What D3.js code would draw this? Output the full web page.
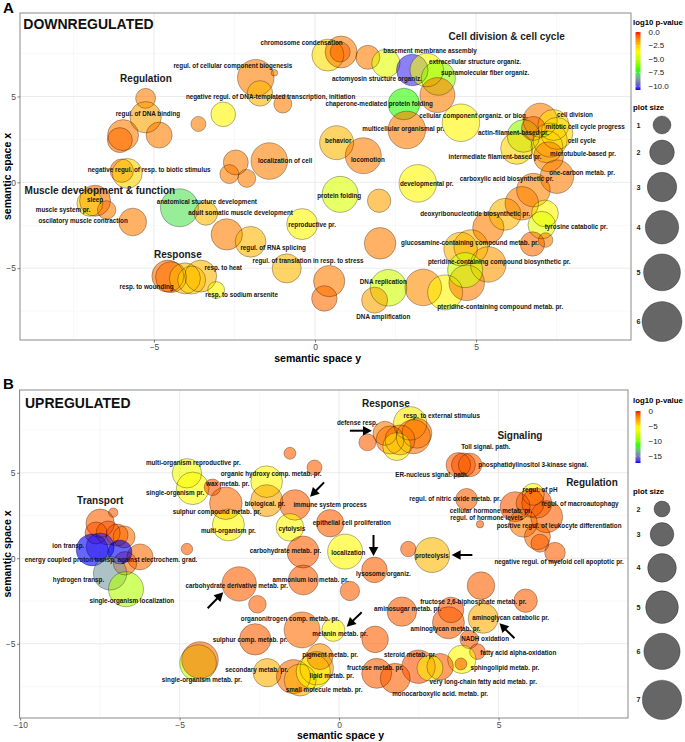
<!DOCTYPE html>
<html><head><meta charset="utf-8">
<script src="https://cdn.jsdelivr.net/npm/d3@7"></script>
<style>body{margin:0;background:#fff}svg{font-family:"Liberation Sans",Arial,Helvetica,sans-serif}</style>
</head><body><svg id="c" width="685" height="742"></svg>
<script>
// ---------------- DATA ----------------
// bubbles: [semantic space y (x axis), semantic space x (y axis), log10 p-value, plot size]
const downBubbles = [
[-5.26,4.89,-1.15,1.25],[-5.26,3.79,-1.8,3.44],[-5.96,2.75,-1.15,3.36],[-6.06,2.46,-0.9,2.05],
[-4.84,2.75,-1.15,2.25],[-3.62,3.40,-1.15,0.70],[-2.85,3.96,-3.4,2.0],[-1.84,6.09,-1.15,4.9],
[-1.71,5.18,-2.2,2.15],[-1.26,6.38,-1.3,0.34],[-1.00,4.56,-1.15,1.0],[-2.46,1.16,-1.15,2.05],
[-1.42,1.24,-1.2,4.9],[-2.66,0.48,-1.15,1.12],[-2.12,0.23,-1.15,1.0],[-6.00,0.68,-1.0,1.77],
[-5.83,0.52,-2.7,3.1],[-6.83,-1.07,-0.85,3.36],[-6.99,-1.22,-2.7,2.25],[-6.47,-1.61,-1.15,1.05],
[-5.66,-2.31,-1.15,2.6],[-4.21,-1.48,-7.6,5.34],[-3.39,-1.81,-2.2,1.8],[-2.74,-3.03,-1.15,3.44],
[-2.00,-3.46,-2.2,3.3],[-0.40,-2.43,-3.4,3.36],[-0.88,-5.01,-2.2,2.9],[-4.57,-5.46,-0.9,3.61],
[-4.47,-5.52,-1.0,3.36],[-4.04,-5.59,-2.2,3.36],[-3.83,-5.69,-2.7,2.66],[-3.55,-5.46,-2.2,3.61],
[-3.07,-6.27,-3.4,0.88],[3.19,-0.06,-3.4,5.2],[0.78,-0.70,-4.4,4.73],[1.99,-1.07,-1.8,1.77],
[2.02,-3.55,-1.15,3.51],[0.44,-5.75,-1.15,3.44],[0.29,-6.76,-0.9,2.15],[2.28,-6.14,-4.7,4.9],
[1.85,-6.86,-1.8,2.25],[3.36,-6.12,-1.4,4.9],[4.04,-6.41,-3.4,4.43],[4.71,-5.85,-1.15,4.6],
[5.38,-4.78,-1.6,4.6],[4.84,-3.75,-2.2,4.15],[4.52,-3.88,-2.2,4.0],[4.66,-5.11,-4.7,4.43],
[5.38,-2.64,-1.15,3.44],[5.90,-1.86,-2.2,3.61],[6.42,-1.22,-1.15,4.0],[6.78,-0.45,-1.3,4.0],
[7.51,0.33,-1.15,4.0],[7.14,-1.81,-3.4,2.4],[7.04,-2.49,-4.2,2.55],[7.16,-3.36,-1.15,0.66],
[6.75,-3.59,-0.9,1.95],[0.40,7.41,-2.9,3.61],[0.81,7.59,-1.15,3.61],[0.78,7.59,-0.8,1.25],
[1.64,7.28,-1.15,1.88],[2.20,6.93,-4.2,2.72],[3.02,6.54,-10.4,3.51],[3.47,6.54,-3.8,4.0],
[3.83,6.06,-5.8,4.15],[3.80,5.08,-1.15,4.43],[2.76,4.56,-7.0,3.51],[2.85,3.05,-1.15,5.2],
[4.53,3.47,-3.4,5.2],[0.67,2.31,-2.2,4.15],[1.50,1.55,-1.15,4.73],[6.99,3.62,-1.15,4.15],
[6.47,2.70,-5.8,3.76],[6.26,1.98,-2.7,3.61],[7.40,3.34,-2.9,3.36],[6.78,3.14,-0.85,1.88],
[7.30,2.46,-2.4,4.15],[7.20,2.07,-2.7,3.61],[7.51,2.85,-2.8,3.61],[7.25,1.49,-1.3,3.1]
];
const downLabels = [
["chromosome condensation",-0.42,8.15],["regul. of cellular component biogenesis",-2.55,6.77],
["negative regul. of DNA-templated transcription, initiation",-1.38,4.99],["regul. of DNA binding",-5.19,3.98],
["negative regul. of resp. to biotic stimulus",-5.15,0.72],["localization of cell",-0.93,1.24],
["sleep",-6.83,-0.99],["muscle system pr.",-7.82,-1.61],["oscilatory muscle contraction",-7.20,-2.25],
["anatomical stucture development",-3.36,-1.16],["adult somatic muscle development",-2.31,-1.77],
["reproductive pr.",-0.09,-2.49],["regul. of RNA splicing",-1.30,-3.79],
["regul. of translation in resp. to stress",-0.22,-4.54],["resp. to heat",-2.85,-4.97],
["resp. to wounding",-5.23,-6.08],["resp. to sodium arsenite",-2.28,-6.52],
["basement membrane assembly",3.57,7.65],["extracellular structure organiz.",4.97,7.02],
["actomyosin structure organiz.",1.92,6.00],["supramolecular fiber organiz.",5.28,6.35],
["chaperone-mediated protein folding",1.99,4.60],["cellular component organiz. or biog.",4.92,3.86],
["multicellular organismal pr.",2.74,3.09],["behavior",0.72,2.42],["locomotion",1.64,1.30],
["cell division",8.07,3.96],["mitotic cell cycle progress",8.39,3.24],["actin-filament-based pr.",6.16,2.91],
["cell cycle",8.28,2.41],["intermediate filament-based pr.",5.59,1.49],["microtubule-based pr.",8.32,1.69],
["one-carbon metab. pr.",8.29,0.58],["carboxylic acid biosynthetic pr.",5.95,0.19],
["developmental pr.",3.47,-0.06],["protein folding",0.75,-0.76],
["deoxyribonucleotide biosynthetic pr.",4.97,-1.86],["tyrosine catabolic pr.",8.11,-2.60],
["glucosamine-containing compound metab. pr.",4.81,-3.52],
["pteridine-containing compound biosynthetic pr.",5.72,-4.62],["DNA replication",2.12,-5.82],
["DNA amplification",2.12,-7.83],["pteridine-containing compound metab. pr.",5.75,-7.25]
];
const downGroups = [["Regulation",-5.25,6.03],["Cell division & cell cycle",5.95,8.52],
["Muscle development & function",-6.68,-0.49],["Response",-4.26,-4.19]];

const upBubbles = [
[-4.77,4.97,-6.3,4.16],[-4.59,4.09,-5.7,4.95],[-3.97,4.15,-0.87,2.06],[-3.55,3.22,-1.45,4.95],
[-3.47,1.95,-5.6,4.8],[-2.27,4.48,-5.6,4.7],[-2.27,3.37,-3.0,4.8],[-1.38,3.12,-1.15,4.44],
[-1.54,1.81,-5.7,3.76],[-1.54,6.14,-1.15,1.72],[-0.77,5.31,-1.15,1.91],[-0.28,2.05,-1.15,3.72],
[-1.13,0.37,-1.15,4.8],[0.19,0.39,-5.6,5.62],[-4.77,0.54,-1.15,1.70],[-7.08,2.67,-1.15,1.63],
[-7.49,2.05,-1.15,3.93],[-7.62,1.48,-0.87,2.73],[-7.24,1.48,-1.0,3.06],[-6.96,1.36,-1.0,2.73],
[-6.74,1.25,-1.6,2.73],[-6.71,-0.29,-1.3,2.96],[-6.24,0.08,-1.45,3.43],[-7.74,0.49,-17.3,4.8],
[-7.49,0.66,-17.0,3.84],[-6.87,0.37,-17.3,3.06],[-7.18,-0.88,-14.2,5.17],[-6.68,-1.81,-8.6,5.62],
[-3.13,-1.50,-1.15,5.45],[-2.56,-2.69,-1.15,2.16],[-1.16,-4.19,-1.45,5.9],[-1.12,-1.27,-1.15,4.3],
[-2.63,-4.74,-1.15,4.64],[-4.42,-6.13,-8.0,6.1],[-4.36,-5.95,-1.45,6.1],[-2.25,-6.69,-3.3,3.93],
[-1.43,-6.92,-1.45,5.33],[-1.22,-7.12,-3.3,4.8],[-0.70,-6.43,-2.8,5.17],[-0.81,-6.63,-5.6,5.33],
[-0.60,-5.75,-2.4,3.43],[-0.18,-4.19,-5.6,2.89],[1.13,-4.74,-1.15,3.55],[0.34,-1.91,-1.15,2.37],
[1.11,-0.68,-1.15,3.35],[2.92,0.19,-3.5,5.62],[2.17,0.54,-1.15,1.95],[1.97,-3.12,-1.15,4.16],
[3.51,-3.02,-1.0,3.35],[3.43,-3.77,-1.15,4.8],[4.45,-1.60,-1.15,3.76],[5.85,-2.48,-1.15,2.96],
[4.52,-3.51,-3.2,4.3],[4.08,-4.74,-1.1,2.25],[4.34,-5.46,-1.15,1.97],[3.85,-5.91,-5.6,3.93],
[3.82,-6.18,-1.1,1.72],[2.49,-6.34,-0.87,5.17],[3.17,-6.34,-1.15,3.55],[2.85,-6.42,-5.3,3.43],
[1.18,-6.73,-1.1,4.3],[1.76,-7.02,-1.15,4.3],[0.89,6.78,-1.15,2.1],[2.23,7.89,-5.0,5.17],
[1.44,7.31,-1.8,3.06],[1.60,6.92,-1.7,3.84],[1.91,6.92,-1.7,4.3],[2.33,7.11,-1.6,5.33],
[2.44,7.31,-1.7,4.3],[1.81,6.53,-5.0,3.84],[3.74,5.46,-1.15,3.17],[3.90,5.46,-0.87,3.06],
[4.11,5.46,-1.15,2.96],[4.00,3.45,-1.15,2.67],[4.42,1.99,-1.15,1.61],[6.09,3.74,-5.5,2.73],
[5.52,3.02,-1.0,4.3],[5.99,3.22,-1.1,3.84],[6.20,3.22,-1.0,4.3],[6.51,2.43,-1.15,4.8],
[5.78,2.05,-1.8,3.84],[6.22,1.26,-1.45,3.43],[6.30,0.88,-1.15,2.2],[6.77,0.33,-1.15,2.53]
];
const upLabels = [
["multi-organism reproductive pr.",-4.57,5.59],["organic hydroxy comp. metab. pr.",-2.13,4.93],
["wax metab. pr.",-3.49,4.33],["single-organism pr.",-5.14,3.80],["biological. pr.",-2.32,3.19],
["immune system process",-0.28,3.12],["sulphur compound metab. pr.",-3.83,2.73],
["epithelial cell proliferation",0.40,2.08],["cytolysis",-1.48,1.75],["multi-organism pr.",-3.47,1.61],
["ion transp.",-8.49,0.72],["carbohydrate metab. pr.",-1.68,0.43],["localization",0.29,0.33],
["energy coupled proton transp. against electrochem. grad.",-7.15,-0.10],["lysosome organiz.",1.39,-0.88],
["hydrogen transp.",-8.17,-1.23],["ammonium ion metab. pr.",-0.89,-1.23],
["carbohydrate derivative metab. pr.",-3.21,-1.62],["single-organism localization",-6.50,-2.48],
["organonitrogen comp. metab. pr.",-1.54,-3.55],["melanin metab. pr.",0.03,-4.39],
["sulphur comp. metab. pr.",-2.79,-4.74],["pigment metab. pr.",-0.28,-5.65],
["secondary metab. pr.",-2.58,-6.53],["lipid metab. pr.",-0.23,-6.88],
["single-organism metab. pr.",-4.30,-7.08],["small molecule metab. pr.",-0.47,-7.70],
["defense resp.",0.57,7.95],["resp. to external stimulus",3.22,8.34],["Toll signal. path.",4.60,6.49],
["phosphatidylinositol 3-kinase signal.",6.09,5.44],["ER-nucleus signal. path.",2.91,4.91],
["regul. of pH",6.30,3.99],["regul. of nitric oxide metab. pr.",3.64,3.49],
["regul. of macroautophagy",7.55,3.16],["cellular hormone metab. pr.",4.76,2.77],
["regul. of hormone levels",4.63,2.34],["positive regul. of leukocyte differentiation",6.90,1.89],
["proteolysis",2.91,0.13],["negative regul. of myeloid cell apoptotic pr.",6.90,-0.20],
["fructose 2,6-biphosphate metab. pr.",4.21,-2.54],["aminosugar metab. pr.",2.15,-2.98],
["aminoglycan catabolic pr.",5.38,-3.47],["aminoglycan metab. pr.",3.34,-4.12],
["NADH oxidation",4.58,-4.72],["fatty acid alpha-oxidation",5.62,-5.50],["steroid metab. pr.",2.23,-5.65],
["fructose metab. pr.",1.13,-6.40],["sphingolipid metab. pr.",5.20,-6.43],
["very long-chain fatty acid metab. pr.",4.52,-7.22],["monocarboxylic acid. metab. pr.",3.17,-7.95]
];
const upGroups = [["Transport",-7.49,3.35],["Response",1.47,9.06],["Signaling",5.67,7.17],["Regulation",7.93,4.42]];
// arrows: [x from, y from, x to, y to]
const upArrows = [[0.34,7.46,1.03,7.46],[-0.47,4.44,-0.91,3.60],[1.08,1.36,1.08,0.13],[4.18,0.19,3.53,0.19],
[-4.12,-2.92,-3.63,-1.99],[0.71,-3.16,0.24,-4.00],[5.50,-4.68,5.03,-3.80]];

const xTicksA = [-5,0,5], xTicksB = [-10,-5,0,5], yTicks = [-5,0,5], minorGrid = [-7.5,-2.5,2.5,7.5];
const pTicksA = [0,-2.5,-5,-7.5,-10], pTicksB = [0,-5,-10,-15];
const sizeBreaksA = [1,2,3,4,5,6], sizeBreaksB = [2,3,4,5,6,7];

// ---------------- DRAW ----------------
const svg = d3.select("#c");
const defs = svg.append("defs");

function panel(c){
  const g = svg.append("g");
  const x = d3.scaleLinear().domain(c.xDomain).range([c.left,c.right]);
  const y = d3.scaleLinear().domain(c.yDomain).range([c.bottom,c.top]);
  const color = d3.scaleLinear().domain([c.pMin,c.pMin*2/3,c.pMin/3,0])
     .range(["#0000ff","#00ff00","#ffff00","#ff0000"]).interpolate(d3.interpolateLab).clamp(true);
  const sq = d3.scaleSqrt().domain([0,1]).range([0,c.sizeK]);
  const rad = v => c.rMin + sq(Math.max(0, v - c.vMin));

  const grid = g.append("g");
  grid.selectAll(".xm").data(minorGrid).join("line").attr("x1",d=>x(d)).attr("x2",d=>x(d))
    .attr("y1",c.top).attr("y2",c.bottom).attr("stroke","#f0f0f0").attr("stroke-width",0.5);
  grid.selectAll(".ym").data(minorGrid).join("line").attr("class","ym").attr("y1",d=>y(d)).attr("y2",d=>y(d))
    .attr("x1",c.left).attr("x2",c.right).attr("stroke","#f0f0f0").attr("stroke-width",0.5);
  grid.selectAll(".xM").data(c.xTicks).join("line").attr("class","xM").attr("x1",d=>x(d)).attr("x2",d=>x(d))
    .attr("y1",c.top).attr("y2",c.bottom).attr("stroke","#e6e6e6").attr("stroke-width",0.8);
  grid.selectAll(".yM").data(yTicks).join("line").attr("class","yM").attr("y1",d=>y(d)).attr("y2",d=>y(d))
    .attr("x1",c.left).attr("x2",c.right).attr("stroke","#e6e6e6").attr("stroke-width",0.8);

  defs.append("clipPath").attr("id","clip"+c.id).append("rect")
    .attr("x",c.left).attr("y",c.top).attr("width",c.right-c.left).attr("height",c.bottom-c.top);
  const b = g.append("g").attr("clip-path",`url(#clip${c.id})`);
  b.append("g").selectAll("circle").data(c.bubbles).join("circle")
    .attr("cx",d=>x(d[0])).attr("cy",d=>y(d[1])).attr("r",d=>rad(d[3]))
    .attr("fill",d=>color(d[2])).attr("fill-opacity",0.6);
  b.append("g").selectAll("circle").data(c.bubbles).join("circle")
    .attr("cx",d=>x(d[0])).attr("cy",d=>y(d[1])).attr("r",d=>rad(d[3]))
    .attr("fill","none").attr("stroke","#000").attr("stroke-opacity",0.6).attr("stroke-width",0.5);

  g.append("g").selectAll("text").data(c.labels).join("text")
    .attr("x",d=>x(d[1])).attr("y",d=>y(d[2])).attr("dy","0.35em").attr("text-anchor","middle")
    .attr("font-size",6.3).attr("font-weight","bold").attr("fill","#141414")
    .text(d=>d[0]);
  g.append("g").selectAll("text").data(c.groups).join("text")
    .attr("x",d=>x(d[1])).attr("y",d=>y(d[2])).attr("dy","0.35em").attr("text-anchor","middle")
    .attr("font-size",10).attr("font-weight","bold").attr("fill","#1a1a1a").text(d=>d[0]);

  (c.arrows||[]).forEach(a=>{
    const x1=x(a[0]),y1=y(a[1]),x2=x(a[2]),y2=y(a[3]);
    const L=Math.hypot(x2-x1,y2-y1), ux=(x2-x1)/L, uy=(y2-y1)/L, hl=9, hw=4.8;
    const bx=x2-ux*hl, by=y2-uy*hl;
    g.append("line").attr("x1",x1).attr("y1",y1).attr("x2",bx+ux*1).attr("y2",by+uy*1)
      .attr("stroke","#000").attr("stroke-width",2);
    g.append("path").attr("d",`M${x2},${y2}L${bx-uy*hw},${by+ux*hw}L${bx+uy*hw},${by-ux*hw}Z`).attr("fill","#000");
  });

  g.append("rect").attr("x",c.left).attr("y",c.top).attr("width",c.right-c.left).attr("height",c.bottom-c.top)
    .attr("fill","none").attr("stroke","#8a8a8a").attr("stroke-width",1);

  const ax = g.append("g").attr("transform",`translate(0,${c.bottom})`)
    .call(d3.axisBottom(x).tickValues(c.xTicks).tickSize(2.5).tickPadding(1.5));
  const ay = g.append("g").attr("transform",`translate(${c.left},0)`)
    .call(d3.axisLeft(y).tickValues(yTicks).tickSize(2.5).tickPadding(1.5));
  [ax,ay].forEach(a=>{ a.select(".domain").remove();
    a.selectAll("line").attr("stroke","#333").attr("stroke-width",0.6);
    a.selectAll("text").attr("font-size",8.5).attr("fill","#4d4d4d").attr("font-family",null); });
  g.append("text").attr("x",c.xTitle[0]).attr("y",c.xTitle[1]).attr("dy","0.35em").attr("text-anchor","middle")
    .attr("font-size",10.5).attr("font-weight","bold").text("semantic space y");
  g.append("text").attr("transform",`translate(${c.yTitle[0]},${c.yTitle[1]}) rotate(-90)`).attr("dy","0.35em")
    .attr("text-anchor","middle").attr("font-size",10.5).attr("font-weight","bold").text("semantic space x");

  g.append("text").attr("x",3).attr("y",c.letterY).attr("font-size",15).attr("font-weight","bold").text(c.id);
  g.append("text").attr("x",c.title[1]).attr("y",c.title[2]).attr("font-size",14).attr("font-weight","bold")
    .attr("fill","#111").text(c.title[0]);

  const lx = 633;
  g.append("text").attr("x",lx).attr("y",c.cbTitleY).attr("dy","0.35em").attr("font-size",7.8)
    .attr("font-weight","bold").text("log10 p-value");
  const gid = "grad"+c.id;
  const grad = defs.append("linearGradient").attr("id",gid).attr("x1",0).attr("y1",0).attr("x2",0).attr("y2",1);
  d3.range(0,1.0001,0.05).forEach(t=>grad.append("stop").attr("offset",t).attr("stop-color",color(c.pMin*t)));
  const cy = d3.scaleLinear().domain([0,c.pMin]).range([c.cbTop,c.cbBottom]);
  g.append("rect").attr("x",635.5).attr("y",c.cbTop).attr("width",5).attr("height",c.cbBottom-c.cbTop)
    .attr("fill",`url(#${gid})`);
  g.append("g").selectAll("line").data(c.pTicks).join("line").attr("x1",635.5).attr("x2",636.7)
    .attr("y1",d=>cy(d)).attr("y2",d=>cy(d)).attr("stroke","#fff").attr("stroke-width",0.6);
  g.append("g").selectAll("line").data(c.pTicks).join("line").attr("x1",639.3).attr("x2",640.5)
    .attr("y1",d=>cy(d)).attr("y2",d=>cy(d)).attr("stroke","#fff").attr("stroke-width",0.6);
  g.append("g").selectAll("text").data(c.pTicks).join("text").attr("x",648.5).attr("y",d=>cy(d))
    .attr("dy","0.35em").attr("font-size",8).attr("fill","#222").text(d=>d3.format(c.pFmt)(d));

  g.append("text").attr("x",lx).attr("y",c.sizeTitleY).attr("dy","0.35em").attr("font-size",7.8)
    .attr("font-weight","bold").text("plot size");
  let yy = c.sizeFirstY, prev = null; const keys=[];
  c.sizeBreaks.forEach(v=>{ const r=rad(v); if(prev!==null) yy += 1.28*(prev+r); keys.push([v,yy,r]); prev=r; });
  const kg = g.append("g");
  kg.selectAll("circle").data(keys).join("circle").attr("cx",662).attr("cy",d=>d[1]).attr("r",d=>d[2])
    .attr("fill","#000").attr("fill-opacity",0.6).attr("stroke","#000").attr("stroke-opacity",0.6).attr("stroke-width",0.5);
  kg.selectAll("text").data(keys).join("text").attr("x",636.5).attr("y",d=>d[1]).attr("dy","0.35em")
    .attr("font-size",7.2).attr("font-weight","bold").attr("fill","#222").text(d=>d[0]);
}

panel({id:"A",left:20,right:631,top:13,bottom:340,xDomain:[-9.16,9.81],yDomain:[-9.18,9.86],
  pMin:-10.7,rMin:3.3,sizeK:7.02,vMin:0.34,xTicks:xTicksA,bubbles:downBubbles,labels:downLabels,groups:downGroups,
  xTitle:[317.7,358.3],yTitle:[7,176.5],letterY:12.5,title:["DOWNREGULATED",23.3,29],
  cbTitleY:22.5,cbTop:32,cbBottom:90,pTicks:pTicksA,pFmt:".1f",sizeTitleY:107.3,sizeFirstY:125,sizeBreaks:sizeBreaksA});
panel({id:"B",left:19.5,right:628,top:390,bottom:718,xDomain:[-10.02,9.06],yDomain:[-9.34,9.84],
  pMin:-17.3,rMin:3.7,sizeK:6.892,vMin:1.611,xTicks:xTicksB,bubbles:upBubbles,labels:upLabels,groups:upGroups,
  arrows:upArrows,xTitle:[340.5,735],yTitle:[7,554],letterY:389,title:["UPREGULATED",25,407.7],
  cbTitleY:400,cbTop:411,cbBottom:463,pTicks:pTicksB,pFmt:"d",sizeTitleY:491.7,sizeFirstY:509,sizeBreaks:sizeBreaksB});
</script></body></html>
